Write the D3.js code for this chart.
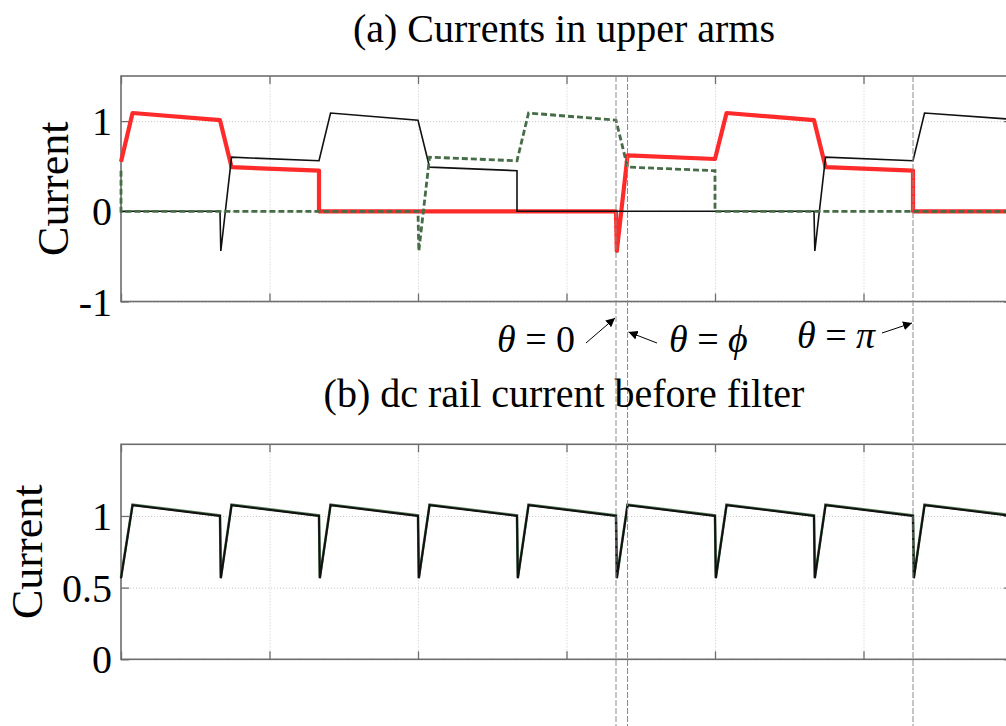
<!DOCTYPE html>
<html>
  <head>
    <meta charset="UTF-8">
    <script src="https://d3js.org/d3.v7.min.js"></script>
    <style type="text/css">
      body { margin: 0; background: white; }
      svg text { font-family: "Liberation Serif", "Times New Roman", serif; fill: black; }
      .grid line { stroke: #c8c8c8; stroke-dasharray: 1,2; }
      .grid path { display: none; }
      .ticks path { display: none; }
      .ticks line { stroke: #6e6e6e; stroke-width: 1.3; }
      .ticks text { font-size: 40px; }
    </style>
  </head>
<body>
<script type="text/javascript">
var svgWidth = 1006;
var svgHeight = 726;

// x values are electrical angle in degrees, theta = 0 at the commutation marker
var xTicks = [-300, -210, -120, -30, 60, 150, 240];
var topTicks = [-1, 0, 1];
var topTickLabels = ['-1', '0', '1'];
var bottomTicks = [0, 0.5, 1];
var bottomTickLabels = ['0', '0.5', '1'];
var phi = 7;
var markers = [0, phi, 180];

// (a) upper arm currents
var phaseRed = [
  [-300, 0.55], [-293, 1.09], [-240, 1.01], [-233, 0.49], [-180, 0.45], [-180, 0],
  [0, 0], [0.5, -0.44], [7, 0.62], [60, 0.58], [67, 1.09], [120, 1.01],
  [127, 0.49], [180, 0.45], [180, 0], [240, 0]
];
var phaseBlack = [
  [-300, 0], [-240, 0], [-239.5, -0.44], [-233, 0.60], [-180, 0.56], [-173, 1.09],
  [-120, 1.01], [-113, 0.49], [-60, 0.45], [-60, 0], [120, 0], [120.5, -0.44],
  [127, 0.60], [180, 0.56], [187, 1.09], [240, 1.02]
];
var phaseGreen = [
  [-300, 0.45], [-300, 0], [-120, 0], [-119.5, -0.44], [-113, 0.60], [-60, 0.56],
  [-53, 1.09], [0, 1.01], [7, 0.49], [60, 0.45], [60, 0], [240, 0]
];

// (b) dc rail current
var dcCurrent = [
  [-300, 0.565], [-293, 1.075], [-240, 1.0], [-239.5, 0.565], [-233, 1.075],
  [-180, 1.0], [-179.5, 0.565], [-173, 1.075], [-120, 1.0], [-119.5, 0.565],
  [-113, 1.075], [-60, 1.0], [-59.5, 0.565], [-53, 1.075], [0, 1.0], [0.5, 0.565],
  [7, 1.075], [60, 1.0], [60.5, 0.565], [67, 1.075], [120, 1.0], [120.5, 0.565],
  [127, 1.075], [180, 1.0], [180.5, 0.565], [187, 1.075], [240, 1.0]
];

var svg = d3.select('body').append('svg')
  .attr('width', svgWidth)
  .attr('height', svgHeight);

var left = 121, right = 1012;

var x = d3.scaleLinear().domain([-300, 240]).range([left, right]);
var yTop = d3.scaleLinear().domain([-1, 1.5]).range([301.5, 76]);
var yBot = d3.scaleLinear().domain([0, 1.5]).range([659.3, 444.3]);

var line = function(ys) {
  return d3.line().x(function(d) { return x(d[0]); }).y(function(d) { return ys(d[1]); });
};

function drawPanel(ys, yt, ylabels, labelX) {
  var top = ys.range()[1], bottom = ys.range()[0];
  var h = bottom - top;
  var g = svg.append('g');

  // grid
  g.append('g').attr('class', 'grid')
    .attr('transform', 'translate(0,' + bottom + ')')
    .call(d3.axisBottom(x).tickValues(xTicks).tickSize(-h).tickFormat(''));
  g.append('g').attr('class', 'grid')
    .attr('transform', 'translate(' + left + ',0)')
    .call(d3.axisLeft(ys).tickValues(yt).tickSize(-(right - left)).tickFormat(''));

  // ticks on all four sides, pointing in
  g.append('g').attr('class', 'ticks')
    .attr('transform', 'translate(0,' + bottom + ')')
    .call(d3.axisBottom(x).tickValues(xTicks).tickSizeInner(-8).tickSizeOuter(0).tickFormat(''));
  g.append('g').attr('class', 'ticks')
    .attr('transform', 'translate(0,' + top + ')')
    .call(d3.axisTop(x).tickValues(xTicks).tickSizeInner(-8).tickSizeOuter(0).tickFormat(''));
  g.append('g').attr('class', 'ticks')
    .attr('transform', 'translate(' + right + ',0)')
    .call(d3.axisRight(ys).tickValues(yt).tickSizeInner(-8).tickSizeOuter(0).tickFormat(''));
  var yax = g.append('g').attr('class', 'ticks')
    .attr('transform', 'translate(' + left + ',0)')
    .call(d3.axisLeft(ys).tickValues(yt).tickSizeInner(-8).tickSizeOuter(0).tickPadding(9)
      .tickFormat(function(d, i) { return ylabels[i]; }));
  yax.selectAll('text').attr('dy', '0.34em').attr('fill', 'black');

  // frame
  g.append('rect')
    .attr('x', left).attr('y', top)
    .attr('width', right - left).attr('height', h)
    .attr('fill', 'none').attr('stroke', '#6e6e6e').attr('stroke-width', 1.6);

  g.append('text')
    .attr('transform', 'translate(' + labelX + ',' + (top + h / 2) + ') rotate(-90)')
    .attr('text-anchor', 'middle')
    .style('font-size', '44px')
    .text('Current');
  return g;
}

var gTop = drawPanel(yTop, topTicks, topTickLabels, 68);
var gBot = drawPanel(yBot, bottomTicks, bottomTickLabels, 42);

// marker lines through both panels
svg.selectAll('.marker')
  .data(markers)
  .enter().append('line')
  .attr('class', 'marker')
  .attr('x1', function(d) { return x(d); })
  .attr('x2', function(d) { return x(d); })
  .attr('y1', 76).attr('y2', svgHeight)
  .attr('stroke', '#8a8a8a').attr('stroke-width', 1)
  .attr('stroke-dasharray', '6,2');

// (a) traces
gTop.append('path').datum(phaseRed)
  .attr('d', line(yTop)).attr('fill', 'none')
  .attr('stroke', '#ff2a2a').attr('stroke-width', 4.2).attr('stroke-linejoin', 'round');
gTop.append('path').datum(phaseBlack)
  .attr('d', line(yTop)).attr('fill', 'none')
  .attr('stroke', '#111').attr('stroke-width', 1.6);
gTop.append('path').datum(phaseGreen)
  .attr('d', line(yTop)).attr('fill', 'none')
  .attr('stroke', '#466c48').attr('stroke-width', 2.8).attr('stroke-dasharray', '6,3');

// (b) trace
gBot.append('path').datum(dcCurrent)
  .attr('d', line(yBot)).attr('fill', 'none')
  .attr('stroke', '#4f7a52').attr('stroke-width', 2.6)
  .attr('transform', 'translate(0,-0.6)');
gBot.append('path').datum(dcCurrent)
  .attr('d', line(yBot)).attr('fill', 'none')
  .attr('stroke', '#111').attr('stroke-width', 2);

// titles
svg.append('text').attr('x', 564).attr('y', 42)
  .attr('text-anchor', 'middle').style('font-size', '40px')
  .text('(a) Currents in upper arms');
svg.append('text').attr('x', 564).attr('y', 407)
  .attr('text-anchor', 'middle').style('font-size', '40px')
  .text('(b) dc rail current before filter');

// annotations
svg.append('defs').append('marker')
  .attr('id', 'head').attr('viewBox', '0 0 10 10')
  .attr('refX', 10).attr('refY', 5)
  .attr('markerWidth', 9).attr('markerHeight', 9)
  .attr('markerUnits', 'userSpaceOnUse')
  .attr('orient', 'auto')
  .append('path').attr('d', 'M0,0 L10,5 L0,10 z').attr('fill', 'black');

var notes = [
  { tx: 497, ty: 352, sym: '0', italic: false, from: [586, 343], to: [x(0) - 1, 318] },
  { tx: 669, ty: 352, sym: '\u03d5', italic: true, from: [657, 343], to: [x(phi) + 1, 332] },
  { tx: 797, ty: 348, sym: '\u03c0', italic: true, from: [882, 333], to: [x(180) - 1, 323] }
];

notes.forEach(function(n) {
  var t = svg.append('text').attr('x', n.tx).attr('y', n.ty).style('font-size', '38px');
  t.append('tspan').style('font-style', 'italic').text('\u03b8');
  t.append('tspan').text(' = ');
  t.append('tspan').style('font-style', n.italic ? 'italic' : 'normal').text(n.sym);
  svg.append('line')
    .attr('x1', n.from[0]).attr('y1', n.from[1])
    .attr('x2', n.to[0]).attr('y2', n.to[1])
    .attr('stroke', 'black').attr('stroke-width', 1)
    .attr('marker-end', 'url(#head)');
});
</script>
</body>
</html>
